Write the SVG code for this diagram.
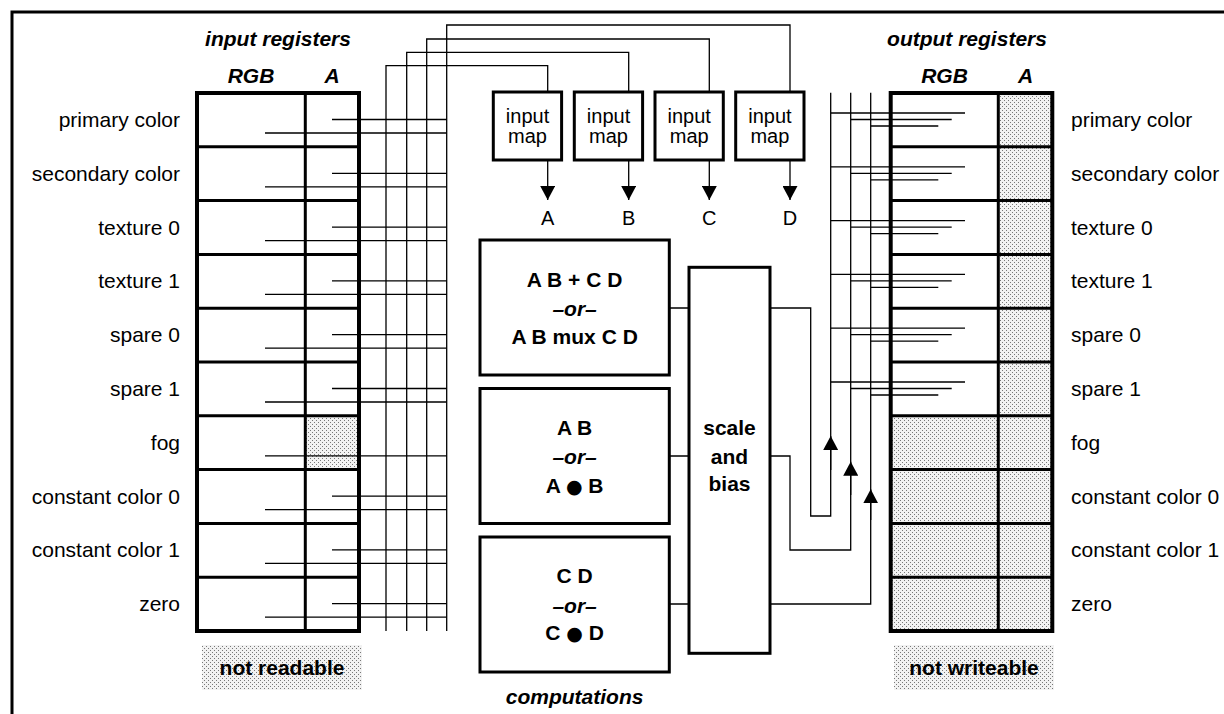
<svg xmlns="http://www.w3.org/2000/svg" width="1224" height="714" viewBox="0 0 1224 714">
<style>
text{font-family:"Liberation Sans",Arial,sans-serif;font-size:21px;fill:#000}
.b{font-weight:bold}
.bi{font-weight:bold;font-style:italic}
.m{text-anchor:middle}
.e{text-anchor:end}
.im{font-size:20px}
.dot{font-family:"DejaVu Sans",sans-serif;font-size:19px;font-weight:normal}
.w{fill:none;stroke:#000;stroke-width:1.3}
.box{fill:#fff;stroke:#000;stroke-width:3}
.outer{fill:none;stroke:#000;stroke-width:4}
.inner{stroke:#000;stroke-width:3}
.shade{fill:url(#dots);stroke:none}
</style>
<defs>
<pattern id="dots" width="4" height="4" patternUnits="userSpaceOnUse">
<rect width="4" height="4" fill="#f2f2f2"/>
<rect x="0" y="0" width="1" height="1" fill="#777"/>
<rect x="2" y="2" width="1" height="1" fill="#777"/>
</pattern>
<marker id="ah" viewBox="0 0 14 15" refX="14" refY="7.5" markerWidth="14" markerHeight="15" markerUnits="userSpaceOnUse" orient="auto">
<path d="M0,0 L14,7.5 L0,15 Z" fill="#000"/>
</marker>
</defs>
<rect width="1224" height="714" fill="#fff"/>
<path id="frame" d="M12,714 V12 H1224" fill="none" stroke="#000" stroke-width="3"/>

<!-- input registers -->
<g id="input-registers">
<text class="bi m" x="278" y="46">input registers</text>
<text class="bi m" x="251" y="83">RGB</text>
<text class="bi m" x="332" y="83">A</text>
<rect class="shade" x="305" y="416" width="54" height="54"/>
<rect class="outer" x="197" y="93" width="162" height="538"/>
<line class="inner" x1="305.3" y1="93" x2="305.3" y2="631"/>
<g class="inner">
<line x1="197" y1="146.8" x2="359" y2="146.8"/>
<line x1="197" y1="200.6" x2="359" y2="200.6"/>
<line x1="197" y1="254.4" x2="359" y2="254.4"/>
<line x1="197" y1="308.2" x2="359" y2="308.2"/>
<line x1="197" y1="362" x2="359" y2="362"/>
<line x1="197" y1="415.8" x2="359" y2="415.8"/>
<line x1="197" y1="469.6" x2="359" y2="469.6"/>
<line x1="197" y1="523.4" x2="359" y2="523.4"/>
<line x1="197" y1="577.2" x2="359" y2="577.2"/>
</g>
<text class="e" x="180" y="127">primary color</text>
<text class="e" x="180" y="181">secondary color</text>
<text class="e" x="180" y="234.5">texture 0</text>
<text class="e" x="180" y="288.3">texture 1</text>
<text class="e" x="180" y="342.1">spare 0</text>
<text class="e" x="180" y="395.9">spare 1</text>
<text class="e" x="180" y="449.7">fog</text>
<text class="e" x="180" y="503.5">constant color 0</text>
<text class="e" x="180" y="557.3">constant color 1</text>
<text class="e" x="180" y="611.1">zero</text>
<rect class="shade" x="202" y="645" width="160" height="45"/>
<text class="b m" x="282" y="674.5">not readable</text>
</g>

<!-- output registers -->
<g id="output-registers">
<text class="bi m" x="967" y="46">output registers</text>
<text class="bi m" x="944.5" y="83">RGB</text>
<text class="bi m" x="1025.5" y="83">A</text>
<rect class="shade" x="998" y="93" width="54" height="538"/>
<rect class="shade" x="891" y="416" width="108" height="215"/>
<rect class="outer" x="890.7" y="93" width="161.6" height="538"/>
<line class="inner" x1="998.3" y1="93" x2="998.3" y2="631"/>
<g class="inner">
<line x1="890.7" y1="146.8" x2="1052.3" y2="146.8"/>
<line x1="890.7" y1="200.6" x2="1052.3" y2="200.6"/>
<line x1="890.7" y1="254.4" x2="1052.3" y2="254.4"/>
<line x1="890.7" y1="308.2" x2="1052.3" y2="308.2"/>
<line x1="890.7" y1="362" x2="1052.3" y2="362"/>
<line x1="890.7" y1="415.8" x2="1052.3" y2="415.8"/>
<line x1="890.7" y1="469.6" x2="1052.3" y2="469.6"/>
<line x1="890.7" y1="523.4" x2="1052.3" y2="523.4"/>
<line x1="890.7" y1="577.2" x2="1052.3" y2="577.2"/>
</g>
<text x="1071" y="127">primary color</text>
<text x="1071" y="181">secondary color</text>
<text x="1071" y="234.5">texture 0</text>
<text x="1071" y="288.3">texture 1</text>
<text x="1071" y="342.1">spare 0</text>
<text x="1071" y="395.9">spare 1</text>
<text x="1071" y="449.7">fog</text>
<text x="1071" y="503.5">constant color 0</text>
<text x="1071" y="557.3">constant color 1</text>
<text x="1071" y="611.1">zero</text>
<rect class="shade" x="894" y="645" width="160" height="45"/>
<text class="b m" x="974" y="674.5">not writeable</text>
</g>

<!-- input maps -->
<g id="input-map-a"><rect class="box" x="493.3" y="92" width="68.3" height="68"/><text class="m im" x="527.5" y="122.7">input</text><text class="m im" x="527.5" y="143">map</text><text class="m im" x="547.7" y="225">A</text></g>
<g id="input-map-b"><rect class="box" x="574.3" y="92" width="68.3" height="68"/><text class="m im" x="608.5" y="122.7">input</text><text class="m im" x="608.5" y="143">map</text><text class="m im" x="628.7" y="225">B</text></g>
<g id="input-map-c"><rect class="box" x="655" y="92" width="68.3" height="68"/><text class="m im" x="689.2" y="122.7">input</text><text class="m im" x="689.2" y="143">map</text><text class="m im" x="709.3" y="225">C</text></g>
<g id="input-map-d"><rect class="box" x="735.7" y="92" width="68.3" height="68"/><text class="m im" x="769.9" y="122.7">input</text><text class="m im" x="769.9" y="143">map</text><text class="m im" x="790" y="225">D</text></g>

<!-- computations -->
<g id="comp-1"><rect class="box" x="480" y="240" width="189.3" height="135"/>
<text class="b m" x="574.6" y="286.8">A B + C D</text>
<text class="bi m" x="574.6" y="315.8">–or–</text>
<text class="b m" x="574.6" y="344.2">A B mux C D</text></g>
<g id="comp-2"><rect class="box" x="480" y="388.5" width="189.3" height="135"/>
<text class="b m" x="574.6" y="434.8">A B</text>
<text class="bi m" x="574.6" y="464.2">–or–</text>
<text class="b m" x="574.6" y="492.5">A <tspan class="dot">●</tspan> B</text></g>
<g id="comp-3"><rect class="box" x="480" y="537" width="189.3" height="135"/>
<text class="b m" x="574.6" y="582.5">C D</text>
<text class="bi m" x="574.6" y="612.5">–or–</text>
<text class="b m" x="574.6" y="639.8">C <tspan class="dot">●</tspan> D</text></g>
<text class="bi m" x="574.6" y="704">computations</text>

<g id="scale-bias"><rect class="box" x="689" y="267.3" width="81" height="386"/>
<text class="b m" x="729.5" y="434.8">scale</text>
<text class="b m" x="729.5" y="463.5">and</text>
<text class="b m" x="729.5" y="490.8">bias</text></g>

<!-- connectors -->
<g id="connectors" class="w">
<path d="M332,119.5H446.7 M265,133H446.7"/>
<path d="M332,173.3H446.7 M265,186.8H446.7"/>
<path d="M332,227.1H446.7 M265,240.6H446.7"/>
<path d="M332,280.9H446.7 M265,294.4H446.7"/>
<path d="M332,334.7H446.7 M265,348.2H446.7"/>
<path d="M332,388.5H446.7 M265,402H446.7"/>
<path d="M265,455.8H446.7"/>
<path d="M332,496.1H446.7 M265,509.6H446.7"/>
<path d="M332,549.9H446.7 M265,563.4H446.7"/>
<path d="M332,603.7H446.7 M265,617.2H446.7"/>
<path d="M386,631V65.7H547.7V92"/>
<path d="M406.7,631V52.3H628.7V92"/>
<path d="M426.7,631V39H709.3V92"/>
<path d="M446.7,631V25H790V92"/>
<line x1="547.7" y1="160" x2="547.7" y2="200" marker-end="url(#ah)"/>
<line x1="628.7" y1="160" x2="628.7" y2="200" marker-end="url(#ah)"/>
<line x1="709.3" y1="160" x2="709.3" y2="200" marker-end="url(#ah)"/>
<line x1="790" y1="160" x2="790" y2="200" marker-end="url(#ah)"/>
<path d="M669.3,308H689 M669.3,456H689 M669.3,604H689"/>
<path d="M770,308H810.7V516H830.7V92.7"/>
<path d="M770,456H790V550H850.7V92.7"/>
<path d="M770,604H870.7V92.7"/>
<line x1="830.7" y1="470" x2="830.7" y2="436" marker-end="url(#ah)"/>
<line x1="850.7" y1="495" x2="850.7" y2="461.7" marker-end="url(#ah)"/>
<line x1="870.7" y1="520" x2="870.7" y2="489.3" marker-end="url(#ah)"/>
<path d="M831,113H965 M851,119.5H951.7 M871,126H938.3"/>
<path d="M831,166.8H965 M851,173.3H951.7 M871,179.8H938.3"/>
<path d="M831,220.6H965 M851,227.1H951.7 M871,233.6H938.3"/>
<path d="M831,274.4H965 M851,280.9H951.7 M871,287.4H938.3"/>
<path d="M831,328.2H965 M851,334.7H951.7 M871,341.2H938.3"/>
<path d="M831,382H965 M851,388.5H951.7 M871,395H938.3"/>
</g>
</svg>
